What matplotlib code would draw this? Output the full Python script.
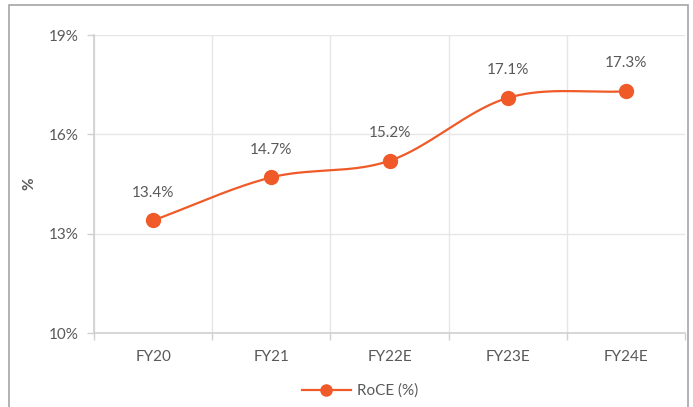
import numpy as np
import matplotlib.pyplot as plt
from matplotlib.patches import Rectangle
from matplotlib.lines import Line2D

plt.rcParams['font.family'] = ['Lato', 'DejaVu Sans']

# data
years = ["FY20", "FY21", "FY22E", "FY23E", "FY24E"]
roce = [13.4, 14.7, 15.2, 17.1, 17.3]
yticks = [10, 13, 16, 19]

line_col = "#f05a28"
text_col = "#595959"
grid_col = "#e6e6e6"
axis_col = "#d0d0d0"


def smooth(xs, ys, n=40):
    # catmull-rom spline, similar to Excel's smoothed line
    xs = np.asarray(xs, float)
    ys = np.asarray(ys, float)
    px = np.concatenate([[2 * xs[0] - xs[1]], xs, [2 * xs[-1] - xs[-2]]])
    py = np.concatenate([[2 * ys[0] - ys[1]], ys, [2 * ys[-1] - ys[-2]]])
    ox, oy = [], []
    for i in range(1, len(px) - 2):
        t = np.linspace(0, 1, n)
        for arr, out in ((px, ox), (py, oy)):
            p0, p1, p2, p3 = arr[i - 1], arr[i], arr[i + 1], arr[i + 2]
            out.extend(0.5 * ((2 * p1) + (-p0 + p2) * t
                              + (2 * p0 - 5 * p1 + 4 * p2 - p3) * t ** 2
                              + (-p0 + 3 * p1 - 3 * p2 + p3) * t ** 3))
    return np.array(ox), np.array(oy)


fig = plt.figure(figsize=(6.93, 4.07), dpi=100)
fig.patches.append(Rectangle((9 / 693, -0.01), (688 - 9) / 693, 1 - 5 / 407 + 0.01,
                             transform=fig.transFigure, fill=False,
                             edgecolor="#a6a6a6", linewidth=1.2))

ax = fig.add_axes([94 / 693, 1 - 333 / 407, (685 - 94) / 693, (333 - 35) / 407])

x = np.arange(len(years))
sx, sy = smooth(x, roce)
ax.plot(sx, sy, color=line_col, linewidth=1.6, zorder=3)
ax.plot(x, roce, "o", color=line_col, markersize=10, zorder=4)

for xi, v in zip(x, roce):
    ax.annotate(f"{v:.1f}%", (xi, v), xytext=(0, 15), textcoords="offset points",
                ha="center", va="bottom", fontsize=11, color=text_col)

ax.set_xlim(-0.5, len(years) - 0.5)
ax.set_ylim(10, 19)
ax.set_yticks(yticks)
ax.set_yticklabels([f"{t}%" for t in yticks])
ax.set_xticks(x)
ax.set_xticklabels(years)
ax.set_xticks(np.arange(-0.5, len(years)), minor=True)

ax.grid(axis="y", which="major", color=grid_col, linewidth=1)
ax.grid(axis="x", which="minor", color=grid_col, linewidth=1)
ax.set_axisbelow(True)

ax.tick_params(axis="x", which="major", length=0, pad=12, labelsize=11, labelcolor=text_col)
ax.tick_params(axis="x", which="minor", length=5, color=axis_col, width=1)
ax.tick_params(axis="y", length=5, color=axis_col, width=1, pad=6, labelsize=11, labelcolor=text_col)

for s in ["top", "right"]:
    ax.spines[s].set_visible(False)
for s in ["left", "bottom"]:
    ax.spines[s].set_color(axis_col)
    ax.spines[s].set_linewidth(1.2)

ax.set_ylabel("%", fontsize=11, fontweight="bold", color=text_col, labelpad=9)

handle = Line2D([], [], color=line_col, marker="o", markersize=8, linewidth=1.6)
fig.legend([handle], ["RoCE (%)"], loc="center", bbox_to_anchor=(360 / 693, 1 - 391 / 407),
           frameon=False, fontsize=11, labelcolor=text_col, handlelength=3.2, handletextpad=0.4)

fig.savefig("out.png", dpi=100)
